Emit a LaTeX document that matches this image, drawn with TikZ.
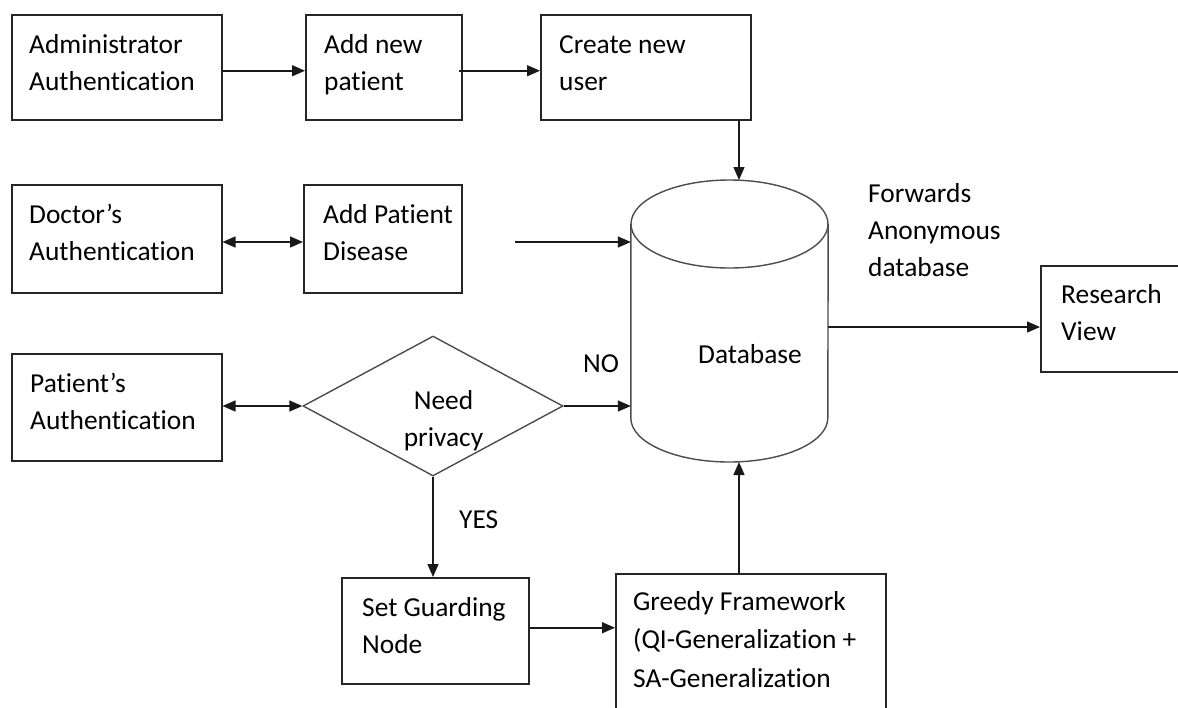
\documentclass[tikz,border=0pt]{standalone}
\usepackage{fontspec}
\setmainfont{Carlito}[Ligatures={NoCommon}]
\usetikzlibrary{arrows.meta,shapes.geometric,calc}
\begin{document}
\begin{tikzpicture}[x=1pt,y=-1pt,
  box/.style={draw=black!85, line width=1.5pt, inner sep=0pt, anchor=north west},
  txt/.style={inner sep=0pt, align=left, anchor=base west, font=\fontsize{27.4}{37.2}\selectfont, text=black},
  arr/.style={line width=1.5pt, draw=black!90, -{Triangle[length=13pt,width=11pt]}},
  darr/.style={line width=1.5pt, draw=black!90, {Triangle[length=13pt,width=11pt]}-{Triangle[length=13pt,width=11pt]}},
  shp/.style={draw=black!70, line width=1.4pt}]
\useasboundingbox (0,0) rectangle (1178,707);
\clip (0,0) rectangle (1178,707);
% boxes
\node[box, minimum width=210pt, minimum height=105pt] (admin) at (11,14) {};
\node[box, minimum width=156pt, minimum height=105pt] (addp) at (305,14) {};
\node[box, minimum width=210pt, minimum height=105pt] (create) at (540,14) {};
\node[box, minimum width=210pt, minimum height=108pt] (doctor) at (11,184) {};
\node[box, minimum width=158pt, minimum height=108pt] (apd) at (303,184) {};
\node[box, minimum width=210pt, minimum height=107pt] (patient) at (11,353) {};
\node[box, minimum width=187pt, minimum height=106pt] (sg) at (341,577) {};
\node[box, minimum width=270pt, minimum height=160pt] (greedy) at (615,573) {};
\node[box, minimum width=160pt, minimum height=106pt] (research) at (1040,265) {};
% diamond
\node[shp, diamond, inner sep=0pt, minimum width=260pt, minimum height=140pt] (need) at (433,406) {};
% database cylinder
\node[inner sep=0pt, minimum width=197pt, minimum height=282pt] (db) at (729.5,321) {};
\draw[shp] (729.5,224) ellipse [x radius=98.5, y radius=44];
\draw[shp] (db.west |- 0,224) -- (db.west |- 0,418) arc[start angle=180, end angle=0, x radius=98.5, y radius=44] -- (db.east |- 0,224);
% texts (base anchor = baseline of the last line)
\node[txt] (admin-t) at ($(admin.north west)+(18,76.2)$) {Administrator\\Authentication};
\node[txt] (addp-t) at ($(addp.north west)+(19,76.2)$) {Add new\\patient};
\node[txt] (create-t) at ($(create.north west)+(19,76.2)$) {Create new\\user};
\node[txt] (doctor-t) at ($(doctor.north west)+(18,76.2)$) {Doctor’s\\Authentication};
\node[txt] (apd-t) at ($(apd.north west)+(20,76.2)$) {Add Patient\\Disease};
\node[txt] (patient-t) at ($(patient.north west)+(19,76.2)$) {Patient’s\\Authentication};
\node[txt] (sg-t) at ($(sg.north west)+(21,76.2)$) {Set Guarding\\Node};
\node[txt, font=\fontsize{27.4}{38.3}\selectfont] (greedy-t) at ($(greedy.north west)+(18,114)$) {Greedy Framework\\(QI-Generalization +\\SA-Generalization};
\node[txt] (research-t) at ($(research.north west)+(21,75.2)$) {Research\\View};
\node[txt, align=center, anchor=base] (need-t) at (443.5,446.2) {Need\\privacy};
\node[txt] (fwd-t) at (868,276.4) {Forwards\\Anonymous\\database};
\node[txt] (no-t) at (583,372) {NO};
\node[txt] (yes-t) at (459,528) {YES};
\node[txt] (db-t) at (698,363) {Database};
% connector ends
\coordinate (dbtop) at (739,180);
\coordinate (dbbot) at (739,462);
\coordinate (apdout) at (515,242);
% connectors
\draw[arr] ($(admin.east)+(0,3.5)$) -- ($(addp.west)+(0,3.5)$);
\draw[arr] ($(addp.east)+(-4,3.5)$) -- ($(create.west)+(0,3.5)$);
\draw[arr] (create.south -| dbtop) -- (dbtop);
\draw[darr] (doctor.east |- apdout) -- (apd.west |- apdout);
\draw[arr] (apdout) -- (db.west |- apdout);
\draw[darr] (patient.east |- need.west) -- (need.west);
\draw[arr] (need.east) -- (db.west |- need.east);
\draw[arr] (need.south) -- (need.south |- sg.north);
\draw[arr] ($(sg.east)+(0,-3)$) -- ($(sg.east -| greedy.west)+(0,-3)$);
\draw[arr] (greedy.north -| dbbot) -- (dbbot);
\draw[arr] (db.east |- 0,327) -- (research.west |- 0,327);
\end{tikzpicture}
\end{document}
